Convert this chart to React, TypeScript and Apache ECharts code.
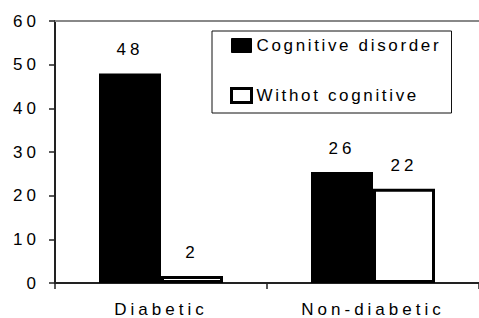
import React, { useEffect, useRef } from "react";
import * as echarts from "echarts";

const categories = ["Diabetic", "Non-diabetic"];
const seriesNames = ["Cognitive disorder", "Withot cognitive"];
const cognitiveDisorder = [48, 25.4];
const withoutCognitive = [1.6, 21.6];
const cognitiveDisorderLabels = ["48", "26"];
const withoutCognitiveLabels = ["2", "22"];
const yMin = 0;
const yMax = 60;
const yInterval = 10;

const FONT = "'Liberation Sans', sans-serif";
const LEGEND_FONT = "Arial, 'Liberation Sans', sans-serif";

export default function App() {
  const ref = useRef<HTMLDivElement>(null);

  useEffect(() => {
    if (!ref.current) return;
    const chart = echarts.init(ref.current, undefined, { renderer: "svg" });
    chart.setOption({
      animation: false,
      backgroundColor: "#fff",
      textStyle: { fontFamily: FONT },
      grid: { left: 55, top: 21, right: -2, bottom: 35, containLabel: false },
      legend: {
        orient: "vertical",
        left: 212,
        top: 31,
        padding: [6, 58, 9, 18],
        itemGap: 33,
        itemWidth: 20,
        itemHeight: 14,
        backgroundColor: "#fff",
        borderColor: "#111",
        borderWidth: 1,
        textStyle: { fontSize: 17, color: "#000", fontFamily: LEGEND_FONT },
        data: [
          { name: seriesNames[0], icon: "rect", itemStyle: { color: "#000", borderColor: "#000", borderWidth: 1 } },
          { name: seriesNames[1], icon: "rect", itemStyle: { color: "#fff", borderColor: "#000", borderWidth: 3 } },
        ],
      },
      xAxis: [
        {
          type: "category",
          data: categories,
          position: "bottom",
          axisLine: { lineStyle: { color: "#222", width: 2 } },
          axisTick: { show: true, alignWithLabel: false, length: 6, lineStyle: { color: "#222", width: 1.5 } },
          axisLabel: { color: "#000", fontSize: 17, margin: 18, fontFamily: FONT },
          splitLine: { show: false },
        },
        {
          type: "category",
          data: categories,
          position: "top",
          axisLine: { lineStyle: { color: "#888", width: 2 } },
          axisTick: { show: false },
          axisLabel: { show: false },
          splitLine: { show: false },
        },
      ],
      yAxis: {
        type: "value",
        min: yMin,
        max: yMax,
        interval: yInterval,
        axisLine: { show: true, lineStyle: { color: "#222", width: 2 } },
        axisTick: { show: true, length: 6, lineStyle: { color: "#222", width: 1.5 } },
        axisLabel: { color: "#000", fontSize: 17, margin: 15, fontFamily: FONT },
        splitLine: { show: false },
      },
      series: [
        {
          name: seriesNames[0],
          type: "bar",
          data: cognitiveDisorder,
          barWidth: 62,
          barGap: "0%",
          itemStyle: { color: "#000", borderColor: "#000", borderWidth: 2 },
          label: {
            show: true,
            position: "top",
            distance: 15,
            color: "#000",
            fontSize: 17,
            fontFamily: FONT,
            formatter: (p: any) => cognitiveDisorderLabels[p.dataIndex],
          },
        },
        {
          name: seriesNames[1],
          type: "bar",
          data: withoutCognitive,
          barWidth: 62,
          barGap: "0%",
          itemStyle: { color: "#fff", borderColor: "#000", borderWidth: 3 },
          label: {
            show: true,
            position: "top",
            distance: 15,
            color: "#000",
            fontSize: 17,
            fontFamily: FONT,
            formatter: (p: any) => withoutCognitiveLabels[p.dataIndex],
          },
        },
      ],
    });
    return () => chart.dispose();
  }, []);

  return (
    <>
      <style>{`body{margin:0;} #chart svg text{letter-spacing:4px;} #chart svg text[style*="Arial"]{letter-spacing:2.65px;}`}</style>
      <div
        id="chart"
        ref={ref}
        style={{ position: "fixed", left: 0, top: 0, width: 479, height: 318 }}
      />
    </>
  );
}
